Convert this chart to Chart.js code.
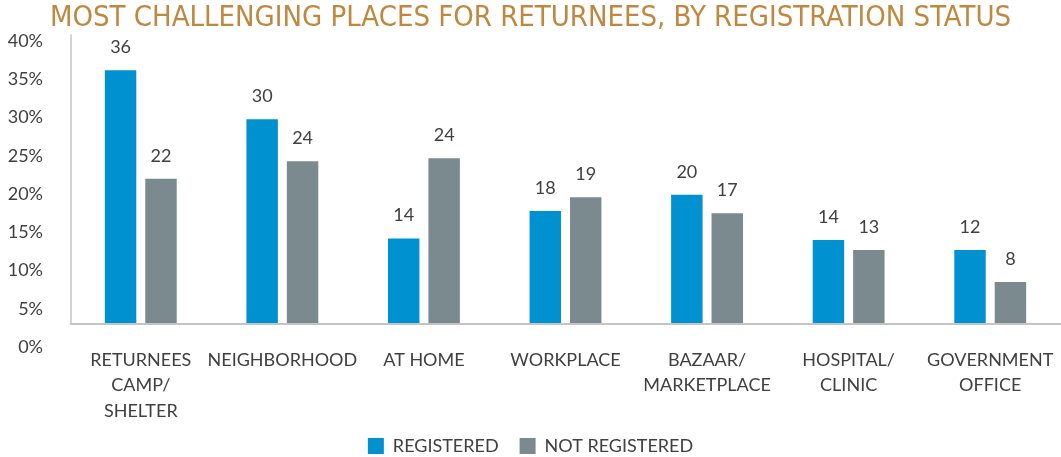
<!DOCTYPE html>
<html><head><meta charset="utf-8">
<script src="https://cdn.jsdelivr.net/npm/chart.js@4/dist/chart.umd.min.js"></script>
<style>html,body{margin:0;padding:0;background:#fff}#wrap{width:1061px;height:457px;position:relative}</style>
</head><body><div id="wrap"><canvas id="c"></canvas></div>
<script>
const categories = [["RETURNEES","CAMP/","SHELTER"],"NEIGHBORHOOD","AT HOME","WORKPLACE",["BAZAAR/","MARKETPLACE"],["HOSPITAL/","CLINIC"],["GOVERNMENT","OFFICE"]];
const registered = [36.2, 29.8, 14.2, 17.8, 19.9, 14.0, 12.7];
const notRegistered = [22.0, 24.3, 24.7, 19.6, 17.5, 12.7, 8.5];
const registeredLabels = [36, 30, 14, 18, 20, 14, 12];
const notRegisteredLabels = [22, 24, 24, 19, 17, 13, 8];
const yMin = 0, yMax = 40, yStep = 5;
const axisBase = 3;

const FONT = 'Lato, "Liberation Sans", sans-serif';
const TXT = '#404040';

const overlay = {
  id: 'overlay',
  afterLayout(chart) {
    // let the multi-line category labels extend into the legend band
    chart.scales.x.bottom += 14;
  },
  afterDatasetsDraw(chart) {
    const ctx = chart.ctx, x = chart.scales.x, y = chart.scales.y;
    const yb = y.getPixelForValue(axisBase);
    ctx.save();
    ctx.strokeStyle = '#c4c4c4';
    ctx.lineWidth = 1.5;
    ctx.beginPath(); ctx.moveTo(x.left + 1, y.top - 7); ctx.lineTo(x.left + 1, yb); ctx.stroke();
    ctx.lineWidth = 2;
    ctx.beginPath(); ctx.moveTo(x.left, yb); ctx.lineTo(chart.width, yb); ctx.stroke();
    ctx.fillStyle = TXT;
    ctx.font = '18px ' + FONT;
    ctx.textAlign = 'center';
    ctx.textBaseline = 'middle';
    const lbls = [registeredLabels, notRegisteredLabels];
    chart.data.datasets.forEach((ds, di) => {
      chart.getDatasetMeta(di).data.forEach((bar, i) => {
        ctx.fillText(String(lbls[di][i]), bar.x, bar.y - 23);
      });
    });
    ctx.restore();
  }
};

new Chart(document.getElementById('c'), {
  type: 'bar',
  data: {
    labels: categories,
    datasets: [
      { label: 'REGISTERED', data: registered, backgroundColor: '#0092d0', base: axisBase },
      { label: 'NOT REGISTERED', data: notRegistered, backgroundColor: '#7a8a8f', base: axisBase }
    ]
  },
  options: {
    responsive: true,
    maintainAspectRatio: false,
    animation: false,
    categoryPercentage: 0.571,
    barPercentage: 0.778,
    layout: { padding: 0 },
    plugins: {
      title: {
        display: true,
        text: 'MOST CHALLENGING PLACES FOR RETURNEES, BY REGISTRATION STATUS',
        color: '#c0873f',
        font: { family: '"DejaVu Sans Condensed", "Liberation Sans", sans-serif', size: 29, weight: 'normal', lineHeight: 1.2 },
        padding: { top: 1, bottom: 5.4 }
      },
      legend: {
        position: 'bottom',
        maxHeight: 41,
        labels: {
          boxWidth: 16, boxHeight: 16, padding: 21,
          color: TXT,
          font: { family: FONT, size: 18 }
        }
      },
      tooltip: { enabled: false }
    },
    scales: {
      x: {
        grid: { display: false, drawTicks: false },
        border: { display: false },
        ticks: { color: TXT, font: { family: FONT, size: 18, lineHeight: 1.42 }, padding: 0, maxRotation: 0, autoSkip: false },
        afterFit(s) { s.height = 69; }
      },
      y: {
        min: yMin, max: yMax,
        grid: { display: false, drawTicks: false },
        border: { display: false },
        ticks: { stepSize: yStep, color: TXT, font: { family: FONT, size: 18 }, padding: 27, callback: v => v + '%' },
        afterFit(s) { s.width = 70; }
      }
    }
  },
  plugins: [overlay]
});
</script>
</body></html>
